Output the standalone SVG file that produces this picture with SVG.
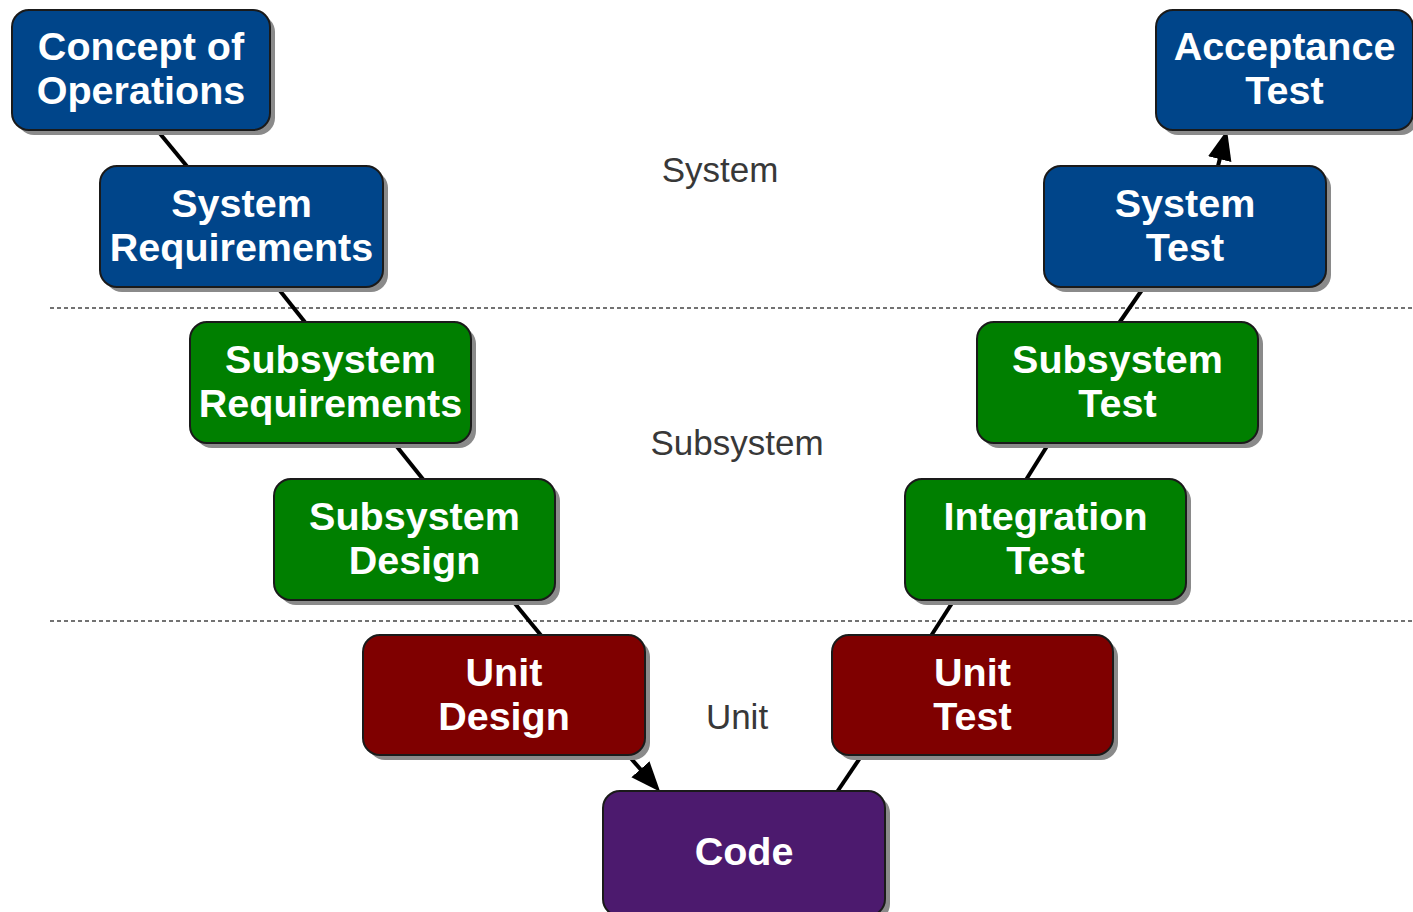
<svg xmlns="http://www.w3.org/2000/svg" width="1413" height="912" viewBox="0 0 1413 912">
<defs>
<style>
.shadow{fill:#8a8a8a}
.box{stroke:#1a1a1a;stroke-width:2}
.blue{fill:#00458a}
.green{fill:#007f00}
.red{fill:#7f0000}
.purple{fill:#4c1a6e}
.nt{font-family:"Liberation Sans",Arial,sans-serif;font-weight:bold;font-size:39.5px;fill:#ffffff;text-anchor:middle}
.lbl{font-family:"Liberation Sans",Arial,sans-serif;font-size:35px;fill:#383838;text-anchor:middle}
.conn{stroke:#000;stroke-width:4;fill:none}
.dash{stroke:#444;stroke-width:1.5;stroke-dasharray:4 3;fill:none}
</style>
<marker id="arrow" markerUnits="userSpaceOnUse" markerWidth="31" markerHeight="26" viewBox="0 0 31 26" refX="20" refY="13" orient="auto">
<path d="M0,1 L30,13 L0,25 z" fill="#000"/>
</marker>
</defs>
<rect width="1413" height="912" fill="#ffffff"/>
<g id="separators">
<line class="dash" x1="50" y1="308" x2="1413" y2="308"/>
<line class="dash" x1="50" y1="621" x2="1413" y2="621"/>
</g>
<g id="labels">
<text class="lbl" x="720" y="182">System</text>
<text class="lbl" x="737" y="455">Subsystem</text>
<text class="lbl" x="737" y="729">Unit</text>
</g>
<g id="connectors">
<line class="conn" x1="157" y1="130" x2="190" y2="170"/>
<line class="conn" x1="277" y1="287" x2="308" y2="326"/>
<line class="conn" x1="394" y1="443" x2="426" y2="483"/>
<line class="conn" x1="512" y1="600" x2="544" y2="639"/>
<line class="conn" x1="628" y1="755" x2="653.6" y2="784.3" marker-end="url(#arrow)"/>
<line class="conn" x1="835" y1="795" x2="862" y2="755"/>
<line class="conn" x1="929" y1="639" x2="954" y2="600"/>
<line class="conn" x1="1024" y1="483" x2="1049" y2="443"/>
<line class="conn" x1="1117" y1="326" x2="1144" y2="287"/>
<line class="conn" x1="1217" y1="170" x2="1224.6" y2="139.7" marker-end="url(#arrow)"/>
</g>
<g id="concept-of-operations">
<rect class="shadow" x="17" y="15" width="258" height="120" rx="17"/>
<rect class="box blue" x="12" y="10" width="258" height="120" rx="17"/>
<text class="nt" x="141" y="60">Concept of</text>
<text class="nt" x="141" y="104">Operations</text>
</g>
<g id="system-requirements">
<rect class="shadow" x="105" y="171" width="283" height="121" rx="17"/>
<rect class="box blue" x="100" y="166" width="283" height="121" rx="17"/>
<text class="nt" x="241.5" y="217">System</text>
<text class="nt" x="241.5" y="261">Requirements</text>
</g>
<g id="subsystem-requirements">
<rect class="shadow" x="195" y="327" width="281" height="121" rx="17"/>
<rect class="box green" x="190" y="322" width="281" height="121" rx="17"/>
<text class="nt" x="330.5" y="373">Subsystem</text>
<text class="nt" x="330.5" y="417">Requirements</text>
</g>
<g id="subsystem-design">
<rect class="shadow" x="279" y="484" width="281" height="121" rx="17"/>
<rect class="box green" x="274" y="479" width="281" height="121" rx="17"/>
<text class="nt" x="414.5" y="530">Subsystem</text>
<text class="nt" x="414.5" y="574">Design</text>
</g>
<g id="unit-design">
<rect class="shadow" x="368" y="640" width="282" height="120" rx="17"/>
<rect class="box red" x="363" y="635" width="282" height="120" rx="17"/>
<text class="nt" x="504" y="686">Unit</text>
<text class="nt" x="504" y="730">Design</text>
</g>
<g id="code">
<rect class="shadow" x="608" y="796" width="282" height="125" rx="17"/>
<rect class="box purple" x="603" y="791" width="282" height="125" rx="17"/>
<text class="nt" x="744" y="865">Code</text>
</g>
<g id="unit-test">
<rect class="shadow" x="837" y="640" width="281" height="120" rx="17"/>
<rect class="box red" x="832" y="635" width="281" height="120" rx="17"/>
<text class="nt" x="972.5" y="686">Unit</text>
<text class="nt" x="972.5" y="730">Test</text>
</g>
<g id="integration-test">
<rect class="shadow" x="910" y="484" width="281" height="121" rx="17"/>
<rect class="box green" x="905" y="479" width="281" height="121" rx="17"/>
<text class="nt" x="1045.5" y="530">Integration</text>
<text class="nt" x="1045.5" y="574">Test</text>
</g>
<g id="subsystem-test">
<rect class="shadow" x="982" y="327" width="281" height="121" rx="17"/>
<rect class="box green" x="977" y="322" width="281" height="121" rx="17"/>
<text class="nt" x="1117.5" y="373">Subsystem</text>
<text class="nt" x="1117.5" y="417">Test</text>
</g>
<g id="system-test">
<rect class="shadow" x="1049" y="171" width="282" height="121" rx="17"/>
<rect class="box blue" x="1044" y="166" width="282" height="121" rx="17"/>
<text class="nt" x="1185" y="217">System</text>
<text class="nt" x="1185" y="261">Test</text>
</g>
<g id="acceptance-test">
<rect class="shadow" x="1161" y="15" width="257" height="120" rx="17"/>
<rect class="box blue" x="1156" y="10" width="257" height="120" rx="17"/>
<text class="nt" x="1284.5" y="60">Acceptance</text>
<text class="nt" x="1284.5" y="104">Test</text>
</g>
</svg>
